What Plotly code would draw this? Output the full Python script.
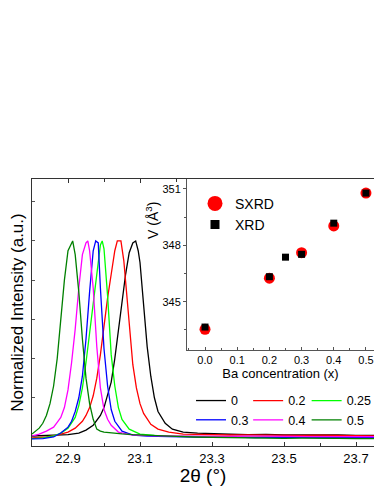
"""XRD peak shift with Ba doping, with an inset of cell volume vs Ba concentration"""
import plotly.graph_objects as go

# Main panel: normalized (hkl) peak for each Ba content
labels = ['0', '0.2', '0.25', '0.3', '0.4', '0.5']
colors = ['#000000', '#ff0000', '#00ff00', '#0000ff', '#ff00ff', '#008000']

x_00 = [22.80, 22.85, 22.90, 22.93, 22.95, 22.97, 22.99, 23.00, 23.01, 23.02, 23.03, 23.04,
        23.05, 23.06, 23.07, 23.08, 23.088, 23.095, 23.10, 23.11, 23.12, 23.13, 23.14, 23.15,
        23.17, 23.19, 23.22, 23.26, 23.30, 23.35, 23.40, 23.45, 23.50, 23.55, 23.60, 23.65,
        23.70, 23.75, 23.80]
i_00 = [0.005, 0.008, 0.012, 0.02, 0.035, 0.06, 0.11, 0.15, 0.21, 0.28, 0.40, 0.55,
        0.69, 0.83, 0.94, 0.99, 1.0, 0.95, 0.89, 0.68, 0.46, 0.31, 0.20, 0.13,
        0.07, 0.04, 0.025, 0.02, 0.016, 0.014, 0.012, 0.013, 0.010, 0.011, 0.009, 0.010,
        0.008, 0.009, 0.008]

x_02 = [22.80, 22.84, 22.87, 22.90, 22.92, 22.94, 22.95, 22.96, 22.97, 22.98, 22.99, 23.00,
        23.01, 23.02, 23.03, 23.037, 23.047, 23.055, 23.06, 23.07, 23.08, 23.09, 23.10, 23.11,
        23.13, 23.15, 23.18, 23.22, 23.26, 23.30, 23.35, 23.40, 23.45, 23.50, 23.55, 23.60,
        23.65, 23.70, 23.75, 23.80]
i_02 = [-0.005, 0.0, 0.01, 0.025, 0.045, 0.08, 0.11, 0.15, 0.21, 0.30, 0.42, 0.57,
        0.71, 0.83, 0.95, 1.0, 1.0, 0.90, 0.80, 0.58, 0.37, 0.25, 0.17, 0.12,
        0.065, 0.04, 0.025, 0.015, 0.013, 0.012, 0.010, 0.011, 0.009, 0.010, 0.008, 0.009,
        0.007, 0.008, 0.006, 0.007]

x_025 = [22.80, 22.83, 22.86, 22.88, 22.90, 22.91, 22.92, 22.93, 22.94, 22.95, 22.96, 22.97,
         22.98, 22.99, 22.995, 23.00, 23.01, 23.02, 23.03, 23.04, 23.05, 23.07, 23.10, 23.14,
         23.20, 23.26, 23.32, 23.38, 23.44, 23.50, 23.56, 23.62, 23.68, 23.74, 23.80]
i_025 = [-0.008, -0.005, 0.005, 0.02, 0.045, 0.07, 0.10, 0.16, 0.25, 0.38, 0.53, 0.70,
         0.86, 0.98, 1.0, 0.96, 0.72, 0.42, 0.26, 0.15, 0.09, 0.04, 0.015, 0.008,
         0.004, 0.002, 0.0, -0.002, 0.0, -0.003, -0.001, -0.004, -0.002, -0.003, -0.004]

x_03 = [22.80, 22.83, 22.86, 22.88, 22.90, 22.91, 22.92, 22.93, 22.94, 22.95, 22.96, 22.97,
        22.977, 22.984, 22.99, 23.00, 23.01, 23.02, 23.03, 23.05, 23.08, 23.12, 23.18, 23.24,
        23.30, 23.36, 23.42, 23.48, 23.54, 23.60, 23.66, 23.72, 23.80]
i_03 = [-0.01, -0.008, 0.0, 0.02, 0.05, 0.08, 0.13, 0.20, 0.31, 0.50, 0.74, 0.95,
        1.0, 0.99, 0.76, 0.45, 0.26, 0.14, 0.08, 0.03, 0.01, 0.005, 0.002, 0.0,
        -0.002, 0.0, -0.003, -0.001, -0.003, -0.002, -0.004, -0.002, -0.003]

x_04 = [22.80, 22.82, 22.84, 22.86, 22.87, 22.88, 22.89, 22.90, 22.91, 22.92, 22.93, 22.94,
        22.95, 22.955, 22.96, 22.97, 22.98, 22.99, 23.00, 23.01, 23.02, 23.04, 23.07, 23.10,
        23.16, 23.22, 23.28, 23.34, 23.40, 23.46, 23.52, 23.58, 23.64, 23.70, 23.80]
i_04 = [0.005, 0.015, 0.03, 0.05, 0.075, 0.10, 0.15, 0.24, 0.38, 0.55, 0.76, 0.93,
        0.99, 1.0, 0.95, 0.76, 0.46, 0.25, 0.14, 0.09, 0.06, 0.025, 0.012, 0.008,
        0.006, 0.004, 0.005, 0.003, 0.004, 0.002, 0.003, 0.002, 0.003, 0.001, 0.002]

x_05 = [22.80, 22.81, 22.82, 22.83, 22.84, 22.85, 22.86, 22.87, 22.88, 22.89, 22.90, 22.905,
        22.913, 22.92, 22.93, 22.94, 22.95, 22.96, 22.97, 22.98, 22.99, 23.00, 23.02, 23.05,
        23.08, 23.12, 23.16, 23.20, 23.25, 23.30, 23.35, 23.40, 23.45, 23.50, 23.55, 23.60,
        23.65, 23.70, 23.75, 23.80]
i_05 = [0.015, 0.03, 0.045, 0.07, 0.11, 0.17, 0.26, 0.40, 0.60, 0.80, 0.95, 0.97,
        1.0, 0.93, 0.74, 0.50, 0.30, 0.17, 0.09, 0.04, 0.03, 0.025, 0.02, 0.016,
        0.012, 0.008, 0.005, 0.003, 0.0, -0.002, -0.004, -0.006, -0.005, -0.007, -0.006, -0.008,
        -0.007, -0.008, -0.009, -0.008]

two_theta = [x_00, x_02, x_025, x_03, x_04, x_05]
intensity = [i_00, i_02, i_025, i_03, i_04, i_05]

# Inset: unit cell volume vs Ba concentration
ba_sxrd = [0.0, 0.2, 0.3, 0.4, 0.5]
vol_sxrd = [343.53, 346.25, 347.61, 349.03, 350.78]
ba_xrd = [0.0, 0.2, 0.25, 0.3, 0.4, 0.5]
vol_xrd = [343.65, 346.33, 347.37, 347.52, 349.18, 350.78]

# The peak legend is laid out in 3 columns of 2 (0/0.3, 0.2/0.4, 0.25/0.5)
legend_of = ['legend', 'legend3', 'legend4', 'legend', 'legend3', 'legend4']

fig = go.Figure()

# Diffraction peaks
for xs, ys, lab, col, leg in zip(two_theta, intensity, labels, colors, legend_of):
    fig.add_trace(go.Scatter(x=xs, y=ys, mode='lines', name=lab,
                             line=dict(color=col, width=1.3), legend=leg))

# Inset points
fig.add_trace(go.Scatter(x=ba_sxrd, y=vol_sxrd, mode='markers', xaxis='x2', yaxis='y2',
                         marker=dict(color='#ff0000', size=11), showlegend=False, cliponaxis=False))
fig.add_trace(go.Scatter(x=ba_xrd, y=vol_xrd, mode='markers', xaxis='x2', yaxis='y2',
                         marker=dict(color='#000000', size=7, symbol='square'), showlegend=False,
                         cliponaxis=False))
# Legend entries for the inset (bigger symbols than the data points)
fig.add_trace(go.Scatter(x=[None], y=[None], mode='markers', xaxis='x2', yaxis='y2', name='SXRD',
                         marker=dict(color='#ff0000', size=15), legend='legend2'))
fig.add_trace(go.Scatter(x=[None], y=[None], mode='markers', xaxis='x2', yaxis='y2', name='XRD',
                         marker=dict(color='#000000', size=9, symbol='square'), legend='legend2'))

font_family = 'Arial, Liberation Sans, sans-serif'
peak_legend = dict(xanchor='left', y=0.225, yanchor='top', bgcolor='rgba(0,0,0,0)',
                   font=dict(size=12.5), itemwidth=30, tracegroupgap=0)

# the page body adds 8px all round, so the figure is sized to fit the window without scrolling
fig.update_layout(
    width=366, height=478,
    margin=dict(l=24, r=0, t=171, b=40, autoexpand=False),
    paper_bgcolor='white', plot_bgcolor='white',
    font=dict(family=font_family, color='black'),
    xaxis=dict(
        range=[22.8, 23.75], domain=[0, 1], automargin=False,
        tick0=22.9, dtick=0.2, ticks='inside', ticklen=4, tickcolor='#333',
        minor=dict(dtick=0.1, ticks='inside', ticklen=3, tickcolor='#333'),
        showline=True, linecolor='#333', linewidth=1.2, mirror='ticks',
        showgrid=False, zeroline=False,
        tickfont=dict(size=13),
        title=dict(text='2θ (°)', font=dict(size=19), standoff=6),
    ),
    yaxis=dict(
        range=[-0.046, 1.316], domain=[0, 1], automargin=False,
        showticklabels=False, ticks='inside', ticklen=3, dtick=0.2, tick0=0, tickcolor='#555',
        showline=True, linecolor='#333', linewidth=1.2, mirror=False,
        showgrid=False, zeroline=False,
        title=dict(text='Normalized Intensity (a.u.)', font=dict(size=17), standoff=4),
    ),
    xaxis2=dict(
        domain=[0.4532, 1.0], anchor='y2', range=[-0.056, 0.525], automargin=False,
        tick0=0, dtick=0.1, tickformat='.1f', ticks='inside', ticklen=3, tickcolor='#555',
        minor=dict(dtick=0.05, ticks='inside', ticklen=2, tickcolor='#555'),
        showline=True, linecolor='#555', linewidth=1, mirror=False,
        showgrid=False, zeroline=False, ticklabeloverflow='allow',
        tickfont=dict(size=11),
        title=dict(text='Ba concentration (x)', font=dict(size=13), standoff=0),
    ),
    yaxis2=dict(
        domain=[0.3596, 1.0], anchor='x2', range=[342.43, 351.53], automargin=False,
        tick0=345, dtick=3, ticks='outside', ticklen=3, tickcolor='#555',
        minor=dict(dtick=1.5, ticks='outside', ticklen=2, tickcolor='#555'),
        showline=True, linecolor='#555', linewidth=1, mirror=False,
        showgrid=False, zeroline=False,
        tickfont=dict(size=11),
    ),
    # inset y title sits high up next to the axis in the original, so place it by hand
    annotations=[dict(
        text='V (Å<sup>3</sup>)', textangle=-90, xref='paper', yref='paper',
        x=0.351, y=0.843, xanchor='center', yanchor='middle', showarrow=False,
        font=dict(size=14),
    )],
    legend=dict(x=0.465, **peak_legend),
    legend3=dict(x=0.632, **peak_legend),
    legend4=dict(x=0.803, **peak_legend),
    legend2=dict(
        x=0.4766, xanchor='left', y=0.967, yanchor='top', bgcolor='rgba(0,0,0,0)',
        font=dict(size=14), itemsizing='trace', tracegroupgap=0,
    ),
)

fig.write_html("out.html")
